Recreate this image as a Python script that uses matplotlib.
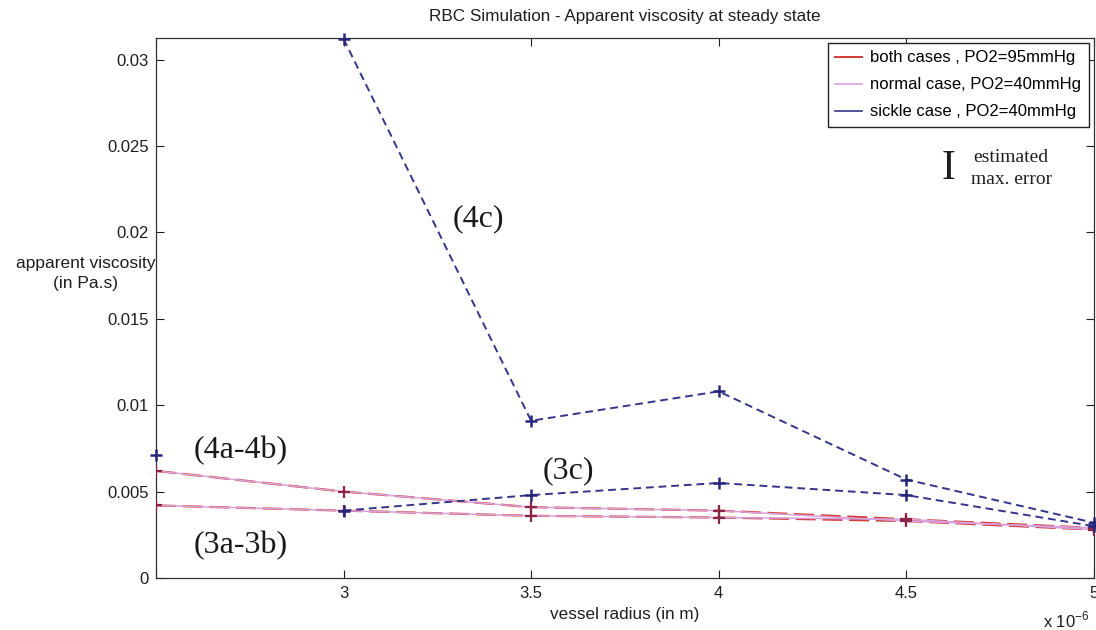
import matplotlib
matplotlib.use("Agg")
import matplotlib.pyplot as plt
from matplotlib.lines import Line2D

# Vessel radius (x 1e-6 m)
radius = [2.5, 3.0, 3.5, 4.0, 4.5, 5.0]

# Apparent viscosity (Pa.s)
both_95_set4 = [0.0062, 0.0050, 0.0041, 0.0039, 0.0034, 0.0029]
normal_40_set4 = [0.0062, 0.0050, 0.0041, 0.0039, 0.0033, 0.0029]
both_95_set3 = [0.0042, 0.0039, 0.0036, 0.0035, 0.0033, 0.0028]
normal_40_set3 = [0.0042, 0.0039, 0.0036, 0.0035, 0.0034, 0.0028]

sickle_radius_4c = [3.0, 3.5, 4.0, 4.5, 5.0]
sickle_40_4c = [0.0312, 0.0091, 0.0108, 0.0057, 0.0032]
sickle_radius_3c = [3.0, 3.5, 4.0, 4.5, 5.0]
sickle_40_3c = [0.0039, 0.0048, 0.0055, 0.0048, 0.0030]
sickle_isolated_r = [2.5]
sickle_isolated_v = [0.0071]

x_ticks = [2.5, 3.0, 3.5, 4.0, 4.5, 5.0]
x_tick_labels = ["", "3", "3.5", "4", "4.5", "5"]
y_ticks = [0, 0.005, 0.01, 0.015, 0.02, 0.025, 0.03]
y_tick_labels = ["0", "0.005", "0.01", "0.015", "0.02", "0.025", "0.03"]

legend_labels = ["both cases , PO2=95mmHg",
                 "normal case, PO2=40mmHg",
                 "sickle case , PO2=40mmHg"]

RED = "#d23a36"
PINK = "#d9a2dc"
BLUE = "#34358a"
MARK_RED = "#8a2448"
MARK_BLUE = "#26267a"
TXT = "#1e1e1e"

sans = ["Liberation Sans", "DejaVu Sans"]
serif = ["Liberation Serif", "DejaVu Serif"]
plt.rcParams["font.family"] = sans

fig = plt.figure(figsize=(10.96, 6.30), dpi=100)
ax = fig.add_axes([0.1423, 0.0825, 0.8557, 0.8572])

# PO2 = 95 mmHg (both cases) and normal case at 40 mmHg, two simulation sets
for both, normal in ((both_95_set4, normal_40_set4), (both_95_set3, normal_40_set3)):
    ax.plot(radius, both, color=RED, lw=1.6, ls=(0, (9, 3)), zorder=3)
    ax.plot(radius, normal, color=PINK, lw=1.1, zorder=4)
    ax.plot(radius, both, ls="none", marker="+", ms=9, mew=1.6,
            color=MARK_RED, zorder=5)

# Sickle case at 40 mmHg
for xs, ys in ((sickle_radius_4c, sickle_40_4c), (sickle_radius_3c, sickle_40_3c)):
    ax.plot(xs, ys, color=BLUE, lw=1.4, ls=(0, (4, 2.5)), marker="+",
            ms=9, mew=1.8, mec=MARK_BLUE, zorder=6, clip_on=False)
ax.plot(sickle_isolated_r, sickle_isolated_v, ls="none", marker="+", ms=9,
        mew=1.8, color=MARK_BLUE, zorder=6, clip_on=False)

ax.set_xlim(2.5, 5.0)
ax.set_ylim(0, 0.03125)
ax.set_xticks(x_ticks)
ax.set_xticklabels(x_tick_labels)
ax.set_yticks(y_ticks)
ax.set_yticklabels(y_tick_labels)
ax.tick_params(direction="in", length=6, width=0.8, top=True, right=True,
               labelsize=12, pad=5, colors=TXT)
ax.tick_params(axis="x", pad=6)
for s in ax.spines.values():
    s.set_linewidth(0.9)
    s.set_color("#333333")

ax.set_title("RBC Simulation - Apparent viscosity at steady state",
             fontsize=12.3, pad=12, color=TXT)
ax.set_xlabel("vessel radius (in m)", fontsize=12.3, labelpad=4, color=TXT)
fig.text(0.078, 0.566, "apparent viscosity\n(in Pa.s)", ha="center", va="center",
         fontsize=12.5, color=TXT, linespacing=1.4)
fig.text(0.994, 0.016, r"x 10$^{\mathregular{-6}}$", ha="right", va="center",
         fontsize=12, color=TXT)

# Curve labels
ann = dict(fontfamily=serif, fontsize=23, ha="center", va="center", color="#1a1a1a")
ax.text(3.36, 0.0208, "(4c)", **ann)
ax.text(2.725, 0.0074, "(4a-4b)", **ann)
ax.text(3.60, 0.0062, "(3c)", **ann)
ax.text(2.725, 0.0019, "(3a-3b)", **ann)

# Estimated maximum error marker
ax.text(4.612, 0.0237, "I", fontfamily=serif, fontsize=30, ha="center",
        va="center", color=TXT)
ax.text(4.78, 0.0237, "estimated\nmax. error", fontfamily=serif, fontsize=14,
        ha="center", va="center", color=TXT, linespacing=1.35)

handles = [Line2D([], [], color=RED, lw=1.4),
           Line2D([], [], color=PINK, lw=1.2),
           Line2D([], [], color=BLUE, lw=1.2)]
leg = ax.legend(handles, legend_labels, loc="upper right", fontsize=12,
                fancybox=False, framealpha=1, edgecolor="#222222",
                handlelength=1.6, handletextpad=0.5, borderpad=0.45,
                labelspacing=0.72, borderaxespad=0.3)
leg.get_frame().set_linewidth(1.0)

fig.savefig("out.png", dpi=100)
